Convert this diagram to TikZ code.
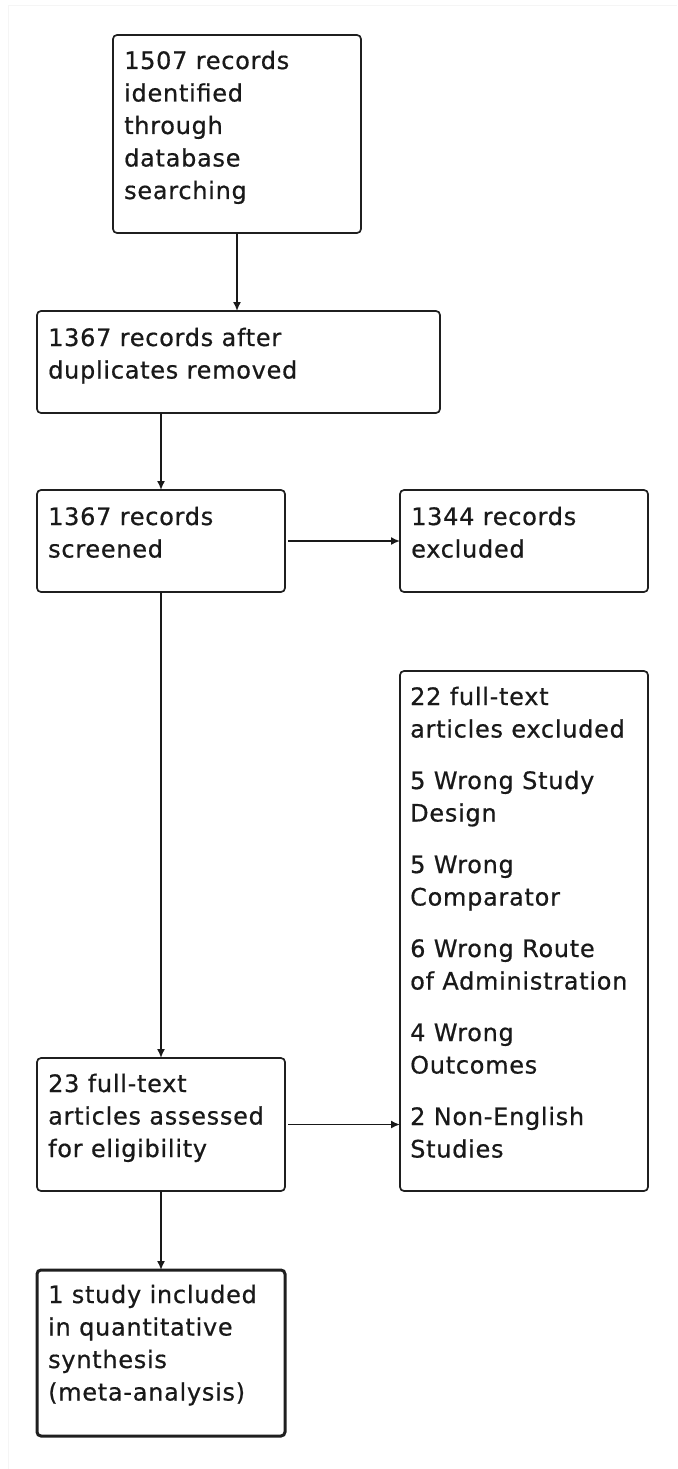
\documentclass[tikz,border=0pt]{standalone}
\usepackage{fontspec}
\setmainfont{DejaVu Sans}[LetterSpace=3,FakeBold=0.6]
\usetikzlibrary{arrows.meta,calc}
\newcommand\mytxt[1]{\vtop{\baselineskip=32.5pt\lineskiplimit=-20pt #1}}
\newcommand\gapp{\vskip 19pt}
\tikzset{
  box/.style={draw=black!88, line width=1.7pt, rounded corners=4pt, fill=white, inner sep=0pt, outer sep=0pt, anchor=north west},
  finalbox/.style={box, line width=3pt},
  txt/.style={anchor=base west, inner sep=0pt, text=black!90, font=\fontsize{24}{32.5}\selectfont},
  arr/.style={draw=black!90, line width=1.6pt, -{Latex[length=9pt,width=8pt]}},
}
\begin{document}
\begin{tikzpicture}[x=1pt,y=-1pt]
\useasboundingbox (0,0) rectangle (677,1469);
\draw[black!4, line width=1pt] (8,1469) -- (8,6) -- (677,6);
% boxes
\node[box, minimum width=248pt, minimum height=198pt] (b1) at (113,35) {};
\node[box, minimum width=403pt, minimum height=102pt] (b2) at (37,311) {};
\node[box, minimum width=248pt, minimum height=102pt] (b3) at (37,490) {};
\node[box, minimum width=248pt, minimum height=102pt] (b4) at (400,490) {};
\node[box, minimum width=248pt, minimum height=520pt] (b5) at (400,671) {};
\node[box, minimum width=248pt, minimum height=133pt] (b6) at (37,1058) {};
\node[finalbox, minimum width=248pt, minimum height=166pt] (b7) at (37,1270) {};
% texts
\node[txt] (t1) at ($(b1.north west)+(11,34)$) {\mytxt{\hbox{1507 records}\hbox{identified}\hbox{through}\hbox{database}\hbox{searching}}};
\node[txt] (t2) at ($(b2.north west)+(11,35)$) {\mytxt{\hbox{1367 records after}\hbox{duplicates removed}}};
\node[txt] (t3) at ($(b3.north west)+(11,35)$) {\mytxt{\hbox{1367 records}\hbox{screened}}};
\node[txt] (t4) at ($(b4.north west)+(11,35)$) {\mytxt{\hbox{1344 records}\hbox{excluded}}};
\node[txt] (t5) at ($(b5.north west)+(10,34)$) {\mytxt{\hbox{22 full-text}\hbox{articles excluded}\gapp
\hbox{5 Wrong Study}\hbox{Design}\gapp
\hbox{5 Wrong}\hbox{Comparator}\gapp
\hbox{6 Wrong Route}\hbox{of Administration}\gapp
\hbox{4 Wrong}\hbox{Outcomes}\gapp
\hbox{2 Non-English}\hbox{Studies}}};
\node[txt] (t6) at ($(b6.north west)+(11,34)$) {\mytxt{\hbox{23 full-text}\hbox{articles assessed}\hbox{for eligibility}}};
\node[txt] (t7) at ($(b7.north west)+(11,33)$) {\mytxt{\hbox{1 study included}\hbox{in quantitative}\hbox{synthesis}\hbox{(meta-analysis)}}};
% connectors
\draw[arr] (b1.south) -- (b1.south |- b2.north);
\draw[arr] (b3.north |- b2.south) -- (b3.north);
\draw[arr] (b3.east) ++(3,0) coordinate (c34) -- (c34 -| b4.west);
\draw[arr] (b3.south) -- (b6.north);
\draw[arr] (b6.east) ++(3,0) coordinate (c65) -- (c65 -| b5.west);
\draw[arr] (b6.south) -- (b6.south |- b7.north);
\end{tikzpicture}
\end{document}
